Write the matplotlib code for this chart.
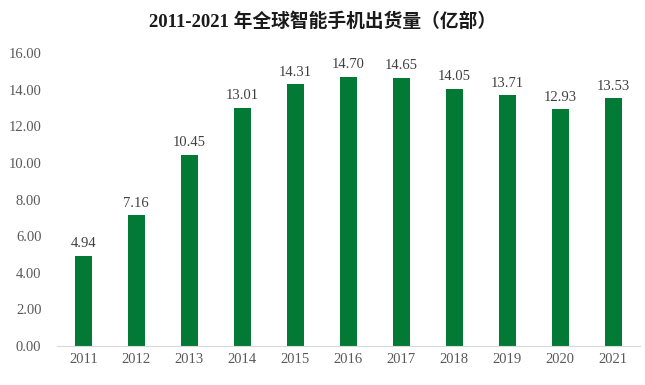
import matplotlib
matplotlib.use('Agg')
import matplotlib.pyplot as plt

years = ['2011', '2012', '2013', '2014', '2015', '2016', '2017', '2018', '2019', '2020', '2021']
shipments = [4.94, 7.16, 10.45, 13.01, 14.31, 14.70, 14.65, 14.05, 13.71, 12.93, 13.53]
yticks = [0, 2, 4, 6, 8, 10, 12, 14, 16]

plt.rcParams['font.family'] = ['Liberation Serif', 'Noto Sans CJK SC']

fig = plt.figure(figsize=(6.45, 3.85), dpi=100)
ax = fig.add_axes([0.088, 0.101, 0.904, 0.761])

x = range(len(years))
ax.bar(x, shipments, width=0.32, color='#027A36')
for i, v in zip(x, shipments):
    ax.text(i, v + 0.3, '%.2f' % v, ha='center', va='bottom', fontsize=10.5, color='#404040')

ax.set_xlim(-0.5, len(years) - 0.5)
ax.set_ylim(0, 16)
ax.set_xticks(list(x))
ax.set_xticklabels(years)
ax.set_yticks(yticks)
ax.set_yticklabels(['%.2f' % t for t in yticks])
ax.tick_params(axis='both', length=0, labelsize=10.5, labelcolor='#595959')
ax.tick_params(axis='x', pad=5)
ax.tick_params(axis='y', pad=11)
for s in ['top', 'right', 'left']:
    ax.spines[s].set_visible(False)
ax.spines['bottom'].set_color('#D9D9D9')

fig.text(0.5, 0.945, '2011-2021 年全球智能手机出货量（亿部）', ha='center', va='center',
         fontsize=13.5, fontweight='bold', color='#1a1a1a')

fig.savefig('out.png', dpi=100)
